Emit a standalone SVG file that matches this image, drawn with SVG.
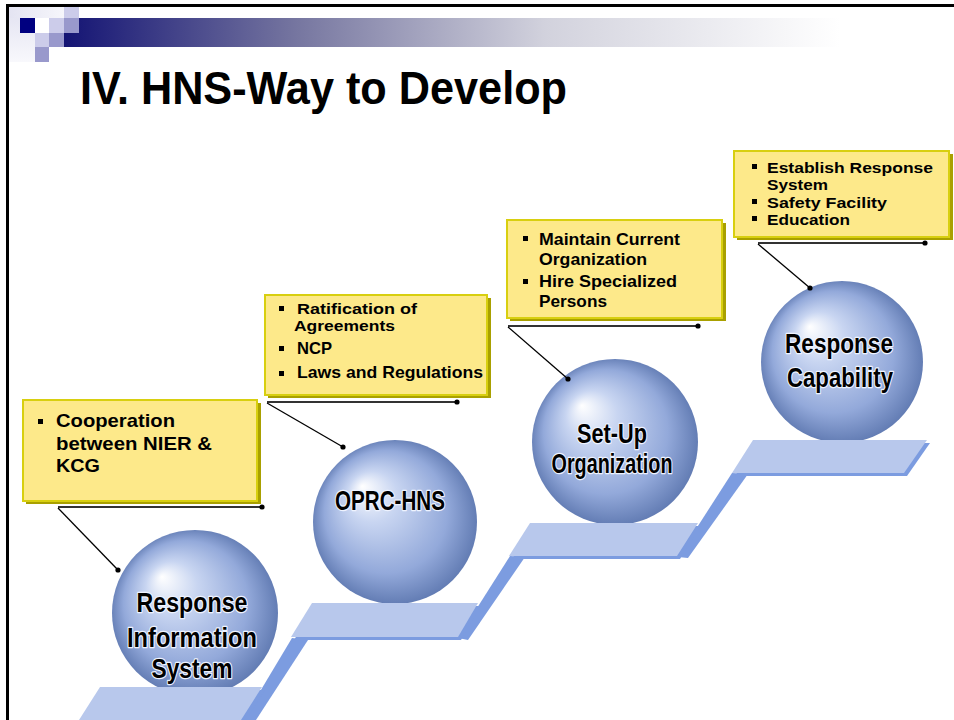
<svg xmlns="http://www.w3.org/2000/svg" width="954" height="720" viewBox="0 0 954 720">
<defs>
<linearGradient id="bar" x1="64" y1="0" x2="840" y2="0" gradientUnits="userSpaceOnUse">
<stop offset="0" stop-color="#141474"/>
<stop offset="0.3" stop-color="#7676a0"/>
<stop offset="0.62" stop-color="#d2d2dd"/>
<stop offset="1" stop-color="#ffffff"/>
</linearGradient>
<linearGradient id="fadeH" x1="0" y1="0" x2="1" y2="0">
<stop offset="0" stop-color="#e4e4f2"/>
<stop offset="1" stop-color="#f6f6fb"/>
</linearGradient>
<linearGradient id="fadeV" x1="0" y1="0" x2="0" y2="1">
<stop offset="0" stop-color="#e6e6f3"/>
<stop offset="1" stop-color="#f8f8fc"/>
</linearGradient>
<radialGradient id="sphere" cx="0.5" cy="0.5" r="0.52" fx="0.3" fy="0.28">
<stop offset="0" stop-color="#ffffff"/>
<stop offset="0.3" stop-color="#c8d5f1"/>
<stop offset="0.72" stop-color="#93a9da"/>
<stop offset="1" stop-color="#5e78b0"/>
</radialGradient>
<style>
.box{fill:#fde98a;stroke:#d8cf10;stroke-width:2}
.shadow{fill:#a9a000}
.bt{font-family:"Liberation Sans",Arial,sans-serif;font-weight:bold;fill:#000}
.b1{font-size:19px}
.b2{font-size:16.5px}
.b3{font-size:15.5px}
.st{font-family:"Liberation Sans",Arial,sans-serif;font-weight:bold;font-size:28px;fill:#000;text-anchor:middle;stroke:#eef3ff;stroke-width:2.5;stroke-linejoin:round;paint-order:stroke}
.ln{stroke:#000;stroke-width:1.3;fill:none}
.hl{stroke:#333;stroke-width:2;fill:none}
.dot{fill:#000}
.top{fill:#b8c8ec}
.dk{fill:#7c9ce0}
.bul{fill:#000}
</style>
</defs>
<rect width="954" height="720" fill="#ffffff"/>
<!-- header -->
<g id="header">
<rect x="9" y="7" width="55" height="11" fill="url(#fadeH)"/>
<rect x="9" y="18" width="26" height="44" fill="url(#fadeV)"/>
<rect x="64" y="18" width="890" height="29" fill="url(#bar)"/>
<rect x="20" y="18" width="15" height="15" fill="#000080"/>
<rect x="49" y="18" width="15" height="15" fill="#ccccea"/>
<rect x="64" y="18" width="15" height="15" fill="#9999cc"/>
<rect x="64" y="7" width="15" height="11" fill="#ccccea"/>
<rect x="35" y="33" width="14" height="14" fill="#ccccea"/>
<rect x="49" y="33" width="15" height="14" fill="#9999cc"/>
<rect x="35" y="47" width="14" height="15" fill="#9999cc"/>
<rect x="6" y="4" width="948" height="3" fill="#000"/>
<rect x="6" y="4" width="3" height="716" fill="#000"/>
<text x="80" y="104" font-family="Liberation Sans, Arial, sans-serif" font-weight="bold" font-size="46" textLength="487" lengthAdjust="spacingAndGlyphs" fill="#000">IV. HNS-Way to Develop</text>
</g>
<!-- spheres -->
<g id="node-ris">
<circle cx="195" cy="613" r="83" fill="url(#sphere)"/>
<text class="st" x="192" y="612" textLength="111" lengthAdjust="spacingAndGlyphs">Response</text>
<text class="st" x="192" y="647" textLength="130" lengthAdjust="spacingAndGlyphs">Information</text>
<text class="st" x="192" y="678" textLength="81" lengthAdjust="spacingAndGlyphs">System</text>
</g>
<g id="node-oprc">
<circle cx="395" cy="522" r="82" fill="url(#sphere)"/>
<text class="st" x="390" y="510" textLength="110" lengthAdjust="spacingAndGlyphs">OPRC-HNS</text>
</g>
<g id="node-setup">
<circle cx="615" cy="442" r="83" fill="url(#sphere)"/>
<text class="st" x="612" y="443" textLength="70" lengthAdjust="spacingAndGlyphs">Set-Up</text>
<text class="st" x="612" y="473" textLength="121" lengthAdjust="spacingAndGlyphs">Organization</text>
</g>
<g id="node-capability">
<circle cx="842" cy="362" r="81" fill="url(#sphere)"/>
<text class="st" x="839" y="353" textLength="108" lengthAdjust="spacingAndGlyphs">Response</text>
<text class="st" x="840" y="387" textLength="106" lengthAdjust="spacingAndGlyphs">Capability</text>
</g>
<!-- stairs -->
<g id="stairs">
<polygon class="dk" points="243,720 256,720 308,640 292,638"/>
<polygon class="dk" points="458,638 468,640 525,557 510,556"/>
<polygon class="dk" points="678,557 688,558 748,474 732,473"/>
<polygon class="dk" points="103,690 265,690 244,723 82,723"/>
<polygon class="top" points="100,687 262,687 241,720 79,720"/>
<polygon class="dk" points="315,606 481,606 461,640 294,640"/>
<polygon class="top" points="312,603 478,603 458,637 291,637"/>
<polygon class="dk" points="533,526 701,526 680,559 512,559"/>
<polygon class="top" points="530,523 698,523 677,556 509,556"/>
<polygon class="dk" points="756,443 930,443 907,476 735,476"/>
<polygon class="top" points="753,440 927,440 904,473 732,473"/>
</g>
<!-- boxes -->
<g id="box-ris">
<rect class="shadow" x="26" y="403" width="235" height="101"/>
<rect class="box" x="23" y="400" width="234" height="101"/>
<rect class="bul" x="38" y="419" width="5" height="5"/>
<text class="bt b1" x="56" y="427" textLength="119" lengthAdjust="spacingAndGlyphs">Cooperation</text>
<text class="bt b1" x="56" y="450" textLength="156" lengthAdjust="spacingAndGlyphs">between NIER &amp;</text>
<text class="bt b1" x="56" y="472" textLength="44" lengthAdjust="spacingAndGlyphs">KCG</text>
</g>
<g id="box-oprc">
<rect class="shadow" x="268" y="298" width="223" height="100"/>
<rect class="box" x="265" y="295" width="222" height="100"/>
<rect class="bul" x="279" y="306" width="5" height="5"/>
<rect class="bul" x="279" y="346" width="5" height="5"/>
<rect class="bul" x="279" y="371" width="5" height="5"/>
<text class="bt b3" x="297" y="314" textLength="120" lengthAdjust="spacingAndGlyphs">Ratification of</text>
<text class="bt b3" x="294" y="331" textLength="101" lengthAdjust="spacingAndGlyphs">Agreements</text>
<text class="bt b2" x="297" y="354" textLength="35" lengthAdjust="spacingAndGlyphs">NCP</text>
<text class="bt b2" x="297" y="378" textLength="186" lengthAdjust="spacingAndGlyphs">Laws and Regulations</text>
</g>
<g id="box-setup">
<rect class="shadow" x="510" y="223" width="216" height="98"/>
<rect class="box" x="507" y="220" width="215" height="98"/>
<rect class="bul" x="523" y="236" width="5" height="5"/>
<rect class="bul" x="523" y="279" width="5" height="5"/>
<text class="bt b2" x="539" y="245" textLength="141" lengthAdjust="spacingAndGlyphs">Maintain Current</text>
<text class="bt b2" x="539" y="265" textLength="108" lengthAdjust="spacingAndGlyphs">Organization</text>
<text class="bt b2" x="539" y="287" textLength="138" lengthAdjust="spacingAndGlyphs">Hire Specialized</text>
<text class="bt b2" x="539" y="307" textLength="68" lengthAdjust="spacingAndGlyphs">Persons</text>
</g>
<g id="box-capability">
<rect class="shadow" x="737" y="154" width="216" height="86"/>
<rect class="box" x="734" y="151" width="215" height="86"/>
<rect class="bul" x="752" y="164" width="5" height="5"/>
<rect class="bul" x="752" y="199" width="5" height="5"/>
<rect class="bul" x="752" y="216" width="5" height="5"/>
<text class="bt b3" x="767" y="173" textLength="166" lengthAdjust="spacingAndGlyphs">Establish Response</text>
<text class="bt b3" x="767" y="190" textLength="61" lengthAdjust="spacingAndGlyphs">System</text>
<text class="bt b3" x="767" y="208" textLength="120" lengthAdjust="spacingAndGlyphs">Safety Facility</text>
<text class="bt b3" x="767" y="225" textLength="83" lengthAdjust="spacingAndGlyphs">Education</text>
</g>
<!-- connectors -->
<g id="connectors">
<line class="hl" x1="58" y1="507" x2="262" y2="507"/>
<line class="ln" x1="58" y1="508" x2="118" y2="570"/>
<circle class="dot" cx="262" cy="507" r="2.6"/>
<circle class="dot" cx="118" cy="570" r="2.6"/>
<line class="hl" x1="267" y1="402" x2="457" y2="402"/>
<line class="ln" x1="267" y1="403" x2="343" y2="447"/>
<circle class="dot" cx="457" cy="402" r="2.6"/>
<circle class="dot" cx="343" cy="447" r="2.6"/>
<line class="hl" x1="508" y1="326" x2="698" y2="326"/>
<line class="ln" x1="508" y1="327" x2="568" y2="379"/>
<circle class="dot" cx="698" cy="326" r="2.6"/>
<circle class="dot" cx="568" cy="379" r="2.6"/>
<line class="hl" x1="758" y1="243" x2="925" y2="243"/>
<line class="ln" x1="758" y1="244" x2="810" y2="288"/>
<circle class="dot" cx="925" cy="243" r="2.6"/>
<circle class="dot" cx="810" cy="288" r="2.6"/>
</g>
</svg>
